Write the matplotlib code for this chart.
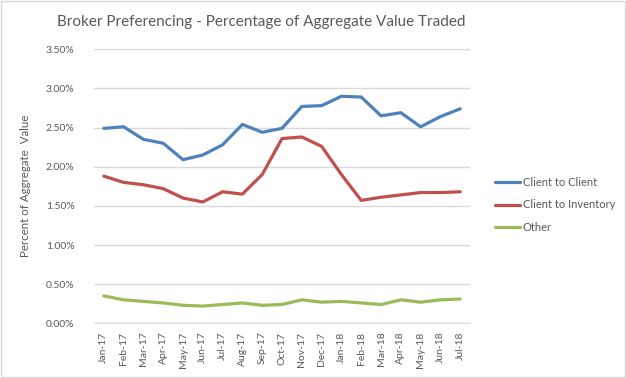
import matplotlib
matplotlib.use("Agg")
import matplotlib.pyplot as plt
from matplotlib.ticker import PercentFormatter

months = ["Jan-17", "Feb-17", "Mar-17", "Apr-17", "May-17", "Jun-17", "Jul-17",
          "Aug-17", "Sep-17", "Oct-17", "Nov-17", "Dec-17", "Jan-18", "Feb-18",
          "Mar-18", "Apr-18", "May-18", "Jun-18", "Jul-18"]
client_to_client = [2.49, 2.51, 2.35, 2.30, 2.09, 2.15, 2.28, 2.54, 2.44, 2.49,
                    2.77, 2.78, 2.90, 2.89, 2.65, 2.69, 2.51, 2.64, 2.74]
client_to_inventory = [1.88, 1.80, 1.77, 1.72, 1.60, 1.55, 1.68, 1.65, 1.90, 2.36,
                       2.38, 2.26, 1.90, 1.57, 1.61, 1.64, 1.67, 1.67, 1.68]
other = [0.35, 0.30, 0.28, 0.26, 0.23, 0.22, 0.24, 0.26, 0.23, 0.24,
         0.30, 0.27, 0.28, 0.26, 0.24, 0.30, 0.27, 0.30, 0.31]
yticks = [0, 0.5, 1.0, 1.5, 2.0, 2.5, 3.0, 3.5]

plt.rcParams['font.family'] = ['Lato', 'DejaVu Sans']
grey = '#595959'

fig = plt.figure(figsize=(6.26, 3.78), dpi=100)
ax = fig.add_axes([0.150, 0.1447, 0.601, 0.7249])

x = range(len(months))
ax.plot(x, client_to_client, color='#4F81BD', lw=2.3, label='Client to Client',
        solid_capstyle='round')
ax.plot(x, client_to_inventory, color='#C0504D', lw=2.3, label='Client to Inventory',
        solid_capstyle='round')
ax.plot(x, other, color='#9BBB59', lw=2.3, label='Other', solid_capstyle='round')

ax.set_xlim(-0.5, len(months) - 0.5)
ax.set_ylim(0, 3.5)
ax.set_yticks(yticks)
ax.yaxis.set_major_formatter(PercentFormatter(decimals=2))
ax.set_xticks(list(x))
ax.set_xticklabels(months, rotation=90)
ax.tick_params(length=0, labelsize=7.5, labelcolor=grey)
ax.tick_params(axis='y', pad=14)
ax.tick_params(axis='x', pad=6)
ax.grid(axis='y', color='#D9D9D9', lw=1)
ax.set_axisbelow(True)
for s in ['top', 'right', 'left']:
    ax.spines[s].set_visible(False)
ax.spines['bottom'].set_color('#D9D9D9')

fig.text(0.417, 0.942, 'Broker Preferencing - Percentage of Aggregate Value Traded',
         ha='center', va='center', fontsize=11, color=grey)
fig.text(0.040, 0.508, 'Percent of Aggregate  Value', rotation=90, ha='center',
         va='center', fontsize=8.3, color=grey)

ax.legend(loc='center left', bbox_to_anchor=(1.04, 0.432), frameon=False,
          fontsize=8, labelcolor=grey, handlelength=2.2, handletextpad=0.3,
          labelspacing=1.05)

fig.patches.append(plt.Rectangle((0.001, 0.002), 0.997, 0.995, transform=fig.transFigure,
                                 fill=False, edgecolor='#D9D9D9', lw=1))
fig.savefig('out.png', dpi=100)
